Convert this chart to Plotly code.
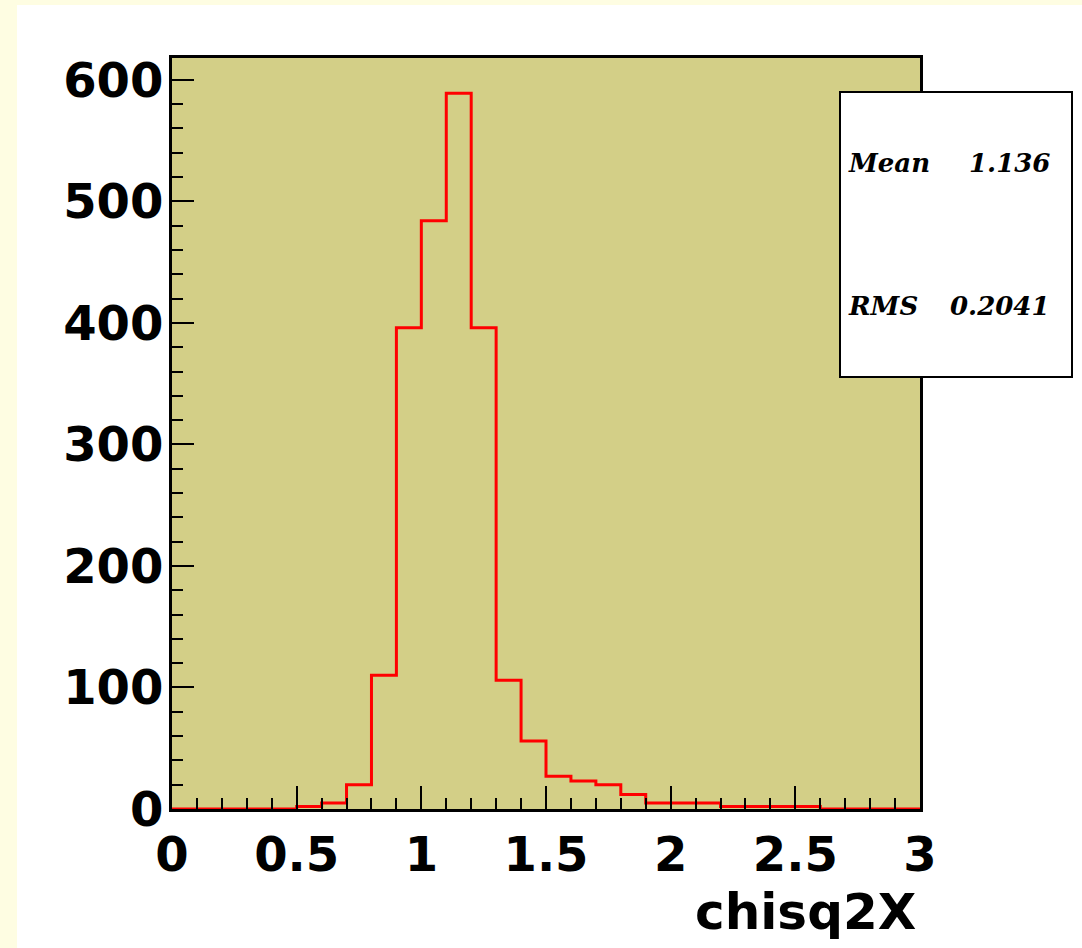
import plotly.graph_objects as go

# Histogram data (bin width 0.1, from 0 to 3)
bin_edges = [round(i * 0.1, 1) for i in range(31)]
counts = [0, 0, 0, 0, 0, 2, 5, 20, 110, 396, 484, 589, 396, 106, 56, 27, 23, 20, 12,
          5, 5, 5, 2, 2, 2, 2, 0, 0, 0, 0]
x_tickvals = [0, 0.5, 1, 1.5, 2, 2.5, 3]
x_ticktext = ["0", "0.5", "1", "1.5", "2", "2.5", "3"]
y_tickvals = [0, 100, 200, 300, 400, 500, 600]
y_ticktext = ["0", "100", "200", "300", "400", "500", "600"]
stat_labels = ["Mean", "RMS"]
stat_values = ["1.136", "0.2041"]
x_title = "chisq2X"

W, H = 1082, 948
L, R, T, B = 172, 920, 58, 809


def px_x(p):
    return (p - L) / (R - L)


def px_y(p):
    return (B - p) / (B - T)


fig = go.Figure()
fig.add_trace(go.Scatter(
    x=bin_edges,
    y=counts + [counts[-1]],
    mode="lines",
    line=dict(shape="hv", color="#ff0000", width=3),
    hoverinfo="skip",
    showlegend=False,
))

tick_font = dict(family="DejaVu Sans", size=48, color="black", weight="bold")

fig.update_layout(
    width=W, height=H,
    margin=dict(l=L, r=W - R, t=T, b=H - B, autoexpand=False),
    paper_bgcolor="white",
    plot_bgcolor="#d3cf87",
    showlegend=False,
    xaxis=dict(
        range=[0, 3], showgrid=False, zeroline=False,
        showline=True, linecolor="black", linewidth=3, mirror=True,
        ticks="inside", ticklen=23, tickwidth=2, tickcolor="black",
        tickmode="array", tickvals=x_tickvals, ticktext=x_ticktext,
        ticklabelstandoff=1,
        minor=dict(ticks="inside", ticklen=11, tickwidth=2, tickcolor="black",
                   tickmode="linear", tick0=0, dtick=0.1),
        tickfont=tick_font,
    ),
    yaxis=dict(
        range=[0, 618], showgrid=False, zeroline=False,
        showline=True, linecolor="black", linewidth=3, mirror=True,
        ticks="inside", ticklen=22, tickwidth=2, tickcolor="black",
        tickmode="array", tickvals=y_tickvals, ticktext=y_ticktext,
        ticklabelstandoff=-4,
        minor=dict(ticks="inside", ticklen=11, tickwidth=2, tickcolor="black",
                   tickmode="linear", tick0=0, dtick=20),
        tickfont=tick_font,
    ),
)

cream = "#fefde2"
# outer cream border strips
fig.add_shape(type="rect", xref="paper", yref="paper",
              x0=px_x(0), x1=px_x(17), y0=px_y(H), y1=px_y(0),
              fillcolor=cream, line=dict(width=0), layer="below")
fig.add_shape(type="rect", xref="paper", yref="paper",
              x0=px_x(0), x1=px_x(W), y0=px_y(5), y1=px_y(0),
              fillcolor=cream, line=dict(width=0), layer="below")

# stats box
fig.add_shape(type="rect", xref="paper", yref="paper",
              x0=px_x(840), x1=px_x(1072), y0=px_y(377), y1=px_y(92),
              fillcolor="white", line=dict(color="black", width=2), layer="above")

stat_font = dict(family="DejaVu Serif", size=26, color="black")
for lab, val, ypx in zip(stat_labels, stat_values, [163, 306]):
    fig.add_annotation(xref="paper", yref="paper", x=px_x(846), y=px_y(ypx),
                       text=f"<b><i>{lab}</i></b>", showarrow=False,
                       xanchor="left", yanchor="middle", font=stat_font)
    fig.add_annotation(xref="paper", yref="paper", x=px_x(1052), y=px_y(ypx),
                       text=f"<b><i>{val}</i></b>", showarrow=False,
                       xanchor="right", yanchor="middle", font=stat_font)

fig.add_annotation(xref="paper", yref="paper", x=px_x(918), y=px_y(912),
                   text=f"<b>{x_title}</b>", showarrow=False,
                   xanchor="right", yanchor="middle",
                   font=dict(family="DejaVu Sans", size=50, color="black"))

fig.write_html("out.html")
